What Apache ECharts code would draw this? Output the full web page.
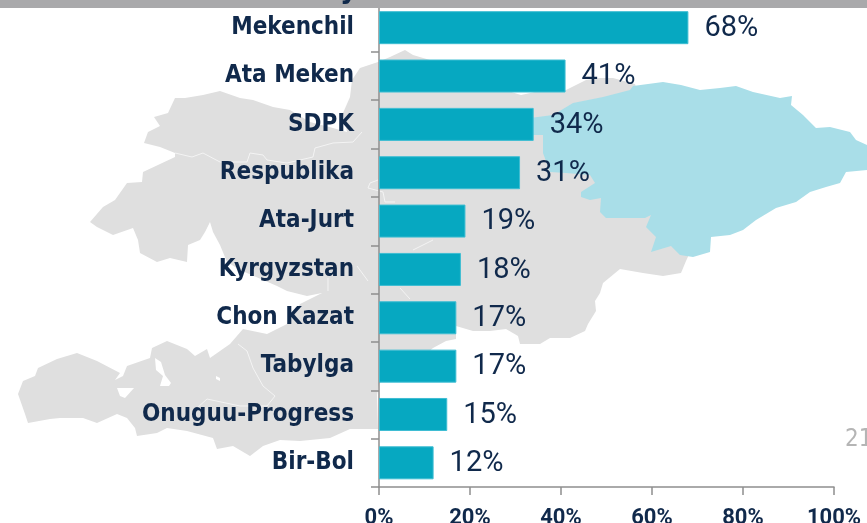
<!DOCTYPE html>
<html><head><meta charset="utf-8">
<style>html,body{margin:0;padding:0;background:#fff}#c{width:867px;height:523px}</style>
<script src="https://cdn.jsdelivr.net/npm/echarts@6/dist/echarts.min.js"></script></head>
<body><div id="c"></div>
<script>
const categories = ['Mekenchil','Ata Meken','SDPK','Respublika','Ata-Jurt','Kyrgyzstan','Chon Kazat','Tabylga','Onuguu-Progress','Bir-Bol'];
const values = [68,41,34,31,19,18,17,17,15,12];
const xTicks = [0,20,40,60,80,100];

// Background map silhouette (decoration, not data)
const mapGray = [[144,143],[148,132],[160,126],[154,117],[168,113],[175,98],[185,98],[203,95],[220,91],[240,98],[253,100],[273,107],[290,110],[310,122],[333,128],[347,132],[343,113],[350,97],[352,80],[360,68],[378,62],[390,57],[405,50],[413,55],[430,60],[470,75],[505,90],[521,95],[535,92],[566,90],[586,80],[600,78],[613,78],[635,84],[640,100],[700,230],[686,261],[681,273],[663,276],[643,273],[620,269],[603,283],[600,293],[595,301],[596,311],[588,324],[585,331],[570,338],[550,338],[540,344],[520,344],[518,336],[506,329],[490,331],[473,331],[456,326],[456,339],[446,341],[433,348],[400,375],[381,382],[379,384],[377,395],[378,429],[350,429],[330,438],[300,441],[280,440],[263,446],[250,456],[233,446],[217,449],[213,438],[187,431],[167,428],[157,433],[137,436],[135,428],[127,418],[117,414],[97,423],[83,418],[60,418],[50,419],[28,423],[25,414],[18,394],[23,381],[35,376],[38,368],[57,359],[77,353],[97,361],[120,373],[115,380],[123,376],[127,366],[150,358],[152,348],[167,341],[187,349],[195,356],[207,349],[210,358],[230,344],[243,329],[267,334],[287,324],[300,304],[322,293],[307,296],[287,291],[277,286],[240,270],[227,262],[220,245],[213,232],[210,222],[205,232],[200,240],[188,245],[187,262],[170,258],[157,262],[140,253],[138,240],[133,228],[113,235],[97,227],[90,222],[103,207],[115,200],[127,183],[142,182],[143,172],[175,157],[175,153],[160,147]];
const mapBlue = [[633,86],[663,82],[681,85],[700,90],[720,88],[736,86],[753,92],[780,98],[792,96],[791,105],[803,115],[816,128],[830,127],[850,132],[856,140],[867,145],[867,170],[846,172],[840,183],[826,187],[810,192],[796,202],[776,208],[756,220],[743,230],[730,235],[711,237],[710,252],[693,257],[680,255],[671,246],[651,252],[656,237],[646,227],[651,215],[645,218],[626,218],[606,218],[600,212],[601,198],[590,200],[581,197],[581,192],[595,183],[590,175],[566,173],[550,172],[543,153],[543,135],[530,135],[530,118],[553,115],[573,103],[603,97],[630,90]];
const mapHoles = [
  [[155,358],[161,362],[165,375],[171,383],[169,386],[160,386],[163,376],[156,370]],
  [[117,388],[134,388],[125,398],[120,396]],
  [[216,376],[220,378],[220,381],[216,379]]
];
const mapBorders = [
  [[175,153],[192,157],[203,153],[220,162],[247,162],[250,153],[263,155],[267,160],[287,163],[313,157],[315,148],[333,143],[353,142],[362,132]],
  [[378,180],[370,183],[368,188],[383,192],[385,202],[395,202]],
  [[238,344],[247,351],[253,368],[263,386],[275,396],[267,406],[240,406],[207,399],[197,408]],
  [[413,250],[433,240]],
  [[400,288],[410,299]],
  [[357,266],[368,281]],
  [[328,278],[328,291]]
];

const navy = '#10294b';
const boldFont = '"DejaVu Sans Condensed","DejaVu Sans"';
const chart = echarts.init(document.getElementById('c'), null, {renderer:'canvas'});
const graphics = [
  {type:'polygon', z:-10, shape:{points:mapGray}, style:{fill:'#dfdfdf'}, silent:true},
  {type:'polygon', z:-9, shape:{points:mapBlue}, style:{fill:'#a9dee8'}, silent:true},
  ...mapHoles.map(p=>({type:'polygon', z:-8, shape:{points:p}, style:{fill:'#fff'}, silent:true})),
  ...mapBorders.map(p=>({type:'polyline', z:-8, shape:{points:p}, style:{stroke:'#f4f4f4', lineWidth:1, fill:null}, silent:true})),
  {type:'rect', z:100, shape:{x:0,y:0,width:867,height:8}, style:{fill:'#a9a9ab'}, silent:true},
  {type:'text', z:101, x:340, y:-25, style:{text:'y', fill:navy, font:'bold 30px '+boldFont}, silent:true},
  {type:'text', z:5, x:845, y:428, style:{text:'21', fill:'#b5b5b5', font:'24px '+boldFont}, silent:true}
];
chart.setOption({
  animation:false,
  backgroundColor:'#fff',
  grid:{left:379, top:3.5, width:455, height:483.5, containLabel:false, outerBoundsMode:'none'},
  xAxis:{type:'value', min:0, max:100, interval:20,
    axisLine:{show:true, lineStyle:{color:'#8f8f8f', width:1.5}},
    axisTick:{show:true, length:8, lineStyle:{color:'#8f8f8f', width:1.5}},
    splitLine:{show:false},
    axisLabel:{margin:20, color:navy, fontFamily:'Roboto', fontWeight:'bold', fontSize:22, formatter:v=>xTicks.includes(v)?v+'%':'', hideOverlap:false, showMinLabel:true, showMaxLabel:true}
  },
  yAxis:{type:'category', inverse:true, data:categories,
    axisLine:{show:true, lineStyle:{color:'#8f8f8f', width:1.5}},
    axisTick:{show:true, length:8, lineStyle:{color:'#8f8f8f', width:1.5}},
    axisLabel:{margin:25, color:navy, fontFamily:boldFont, fontWeight:'bold', fontSize:24, interval:0}
  },
  series:[{type:'bar', data:values, barWidth:33,
    itemStyle:{color:'#06a8c1', borderColor:'#3dbdd2', borderWidth:1},
    label:{show:true, position:'right', distance:16, formatter:p=>p.value+'%', color:navy, fontFamily:'Roboto', fontSize:29, offset:[0,1]}
  }],
  graphic:{elements:graphics}
});
</script></body></html>
